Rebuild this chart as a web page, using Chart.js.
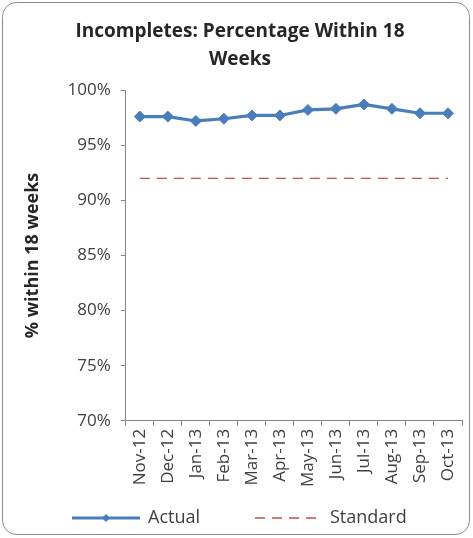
<!DOCTYPE html>
<html>
<head>
<meta charset="utf-8">
<title>Incompletes: Percentage Within 18 Weeks</title>
<script src="https://cdn.jsdelivr.net/npm/chart.js@4.4.0/dist/chart.umd.min.js"></script>
<style>
  html, body { margin: 0; padding: 0; background: #fff; }
  #wrap { width: 473px; height: 538px; }
</style>
</head>
<body>
<div id="wrap"><canvas id="myChart"></canvas></div>
<script>
/*global Chart */

// DATA

const months = ['Nov-12', 'Dec-12', 'Jan-13', 'Feb-13', 'Mar-13', 'Apr-13',
  'May-13', 'Jun-13', 'Jul-13', 'Aug-13', 'Sep-13', 'Oct-13'];
const actual = [97.6, 97.6, 97.2, 97.4, 97.7, 97.7, 98.2, 98.3, 98.7, 98.3, 97.9, 97.9];
const standard = [92, 92, 92, 92, 92, 92, 92, 92, 92, 92, 92, 92];
const yMin = 70;
const yMax = 100;
const yStep = 5;

const FONT = '"Open Sans", "Liberation Sans", sans-serif';
const BLUE = '#4a7ebb';
const RED = '#c0504d';
const AXIS = '#868686';

// FRAME + LEGEND (line-with-marker style keys along the bottom)

const frameAndLegend = {
  id: 'frameAndLegend',
  afterDraw(chart) {
    const ctx = chart.ctx;
    const ds = chart.data.datasets;
    ctx.save();

    ctx.strokeStyle = '#8c8c8c';
    ctx.lineWidth = 1;
    ctx.beginPath();
    ctx.roundRect(2.5, 2.5, 467, 532, 14);
    ctx.stroke();

    const y = 518;
    ctx.font = '18px ' + FONT;
    ctx.textBaseline = 'middle';

    // Actual
    ctx.strokeStyle = ds[0].borderColor;
    ctx.lineWidth = 3;
    ctx.beginPath();
    ctx.moveTo(72, y);
    ctx.lineTo(140, y);
    ctx.stroke();
    ctx.fillStyle = ds[0].pointBackgroundColor;
    ctx.beginPath();
    ctx.moveTo(106, y - 4);
    ctx.lineTo(110, y);
    ctx.lineTo(106, y + 4);
    ctx.lineTo(102, y);
    ctx.closePath();
    ctx.fill();
    ctx.fillStyle = '#404040';
    ctx.fillText(ds[0].label, 148, y);

    // Standard
    ctx.strokeStyle = ds[1].borderColor;
    ctx.lineWidth = 1.3;
    ctx.setLineDash(ds[1].borderDash);
    ctx.beginPath();
    ctx.moveTo(255, y);
    ctx.lineTo(322, y);
    ctx.stroke();
    ctx.setLineDash([]);
    ctx.fillText(ds[1].label, 330, y);

    ctx.restore();
  }
};

// CHART

const ctx = document.getElementById('myChart').getContext('2d');

const chart = new Chart(ctx, {
  type: 'line',
  data: {
    labels: months,
    datasets: [
      {
        label: 'Actual',
        data: actual,
        borderColor: BLUE,
        backgroundColor: BLUE,
        borderWidth: 3.2,
        pointStyle: 'rectRot',
        pointRadius: 5.5,
        pointBackgroundColor: BLUE,
        pointBorderColor: BLUE,
        pointBorderWidth: 1,
        tension: 0,
      },
      {
        label: 'Standard',
        data: standard,
        borderColor: RED,
        borderWidth: 1.3,
        borderDash: [10, 7],
        pointRadius: 0,
        tension: 0,
      },
    ],
  },
  options: {
    responsive: true,
    maintainAspectRatio: false,
    animation: false,
    layout: { padding: { left: 18, right: 11, top: 18, bottom: 48 } },
    plugins: {
      legend: { display: false },
      tooltip: { enabled: false },
      title: {
        display: true,
        text: ['Incompletes: Percentage Within 18', 'Weeks'],
        color: '#262626',
        font: { family: FONT, size: 19, weight: 'bold', lineHeight: 1.45 },
        padding: { top: 0, bottom: 17 },
      },
    },
    scales: {
      x: {
        offset: true,
        grid: { offset: true, drawOnChartArea: false, drawTicks: true, tickLength: 5, color: AXIS },
        border: { color: AXIS },
        ticks: {
          color: '#404040',
          font: { family: FONT, size: 17 },
          minRotation: 90,
          maxRotation: 90,
          autoSkip: false,
          padding: 3,
        },
      },
      y: {
        min: yMin,
        max: yMax,
        grid: { drawOnChartArea: false, drawTicks: true, tickLength: 5, color: AXIS },
        border: { color: AXIS },
        ticks: {
          stepSize: yStep,
          color: '#404040',
          font: { family: FONT, size: 17 },
          padding: 10,
          callback: function (v) { return v + '%'; },
        },
        title: {
          display: true,
          text: '% within 18 weeks',
          color: '#262626',
          font: { family: FONT, size: 18, weight: 'bold' },
          padding: { top: 4, bottom: 14 },
        },
      },
    },
  },
  plugins: [frameAndLegend],
});
</script>
</body>
</html>
